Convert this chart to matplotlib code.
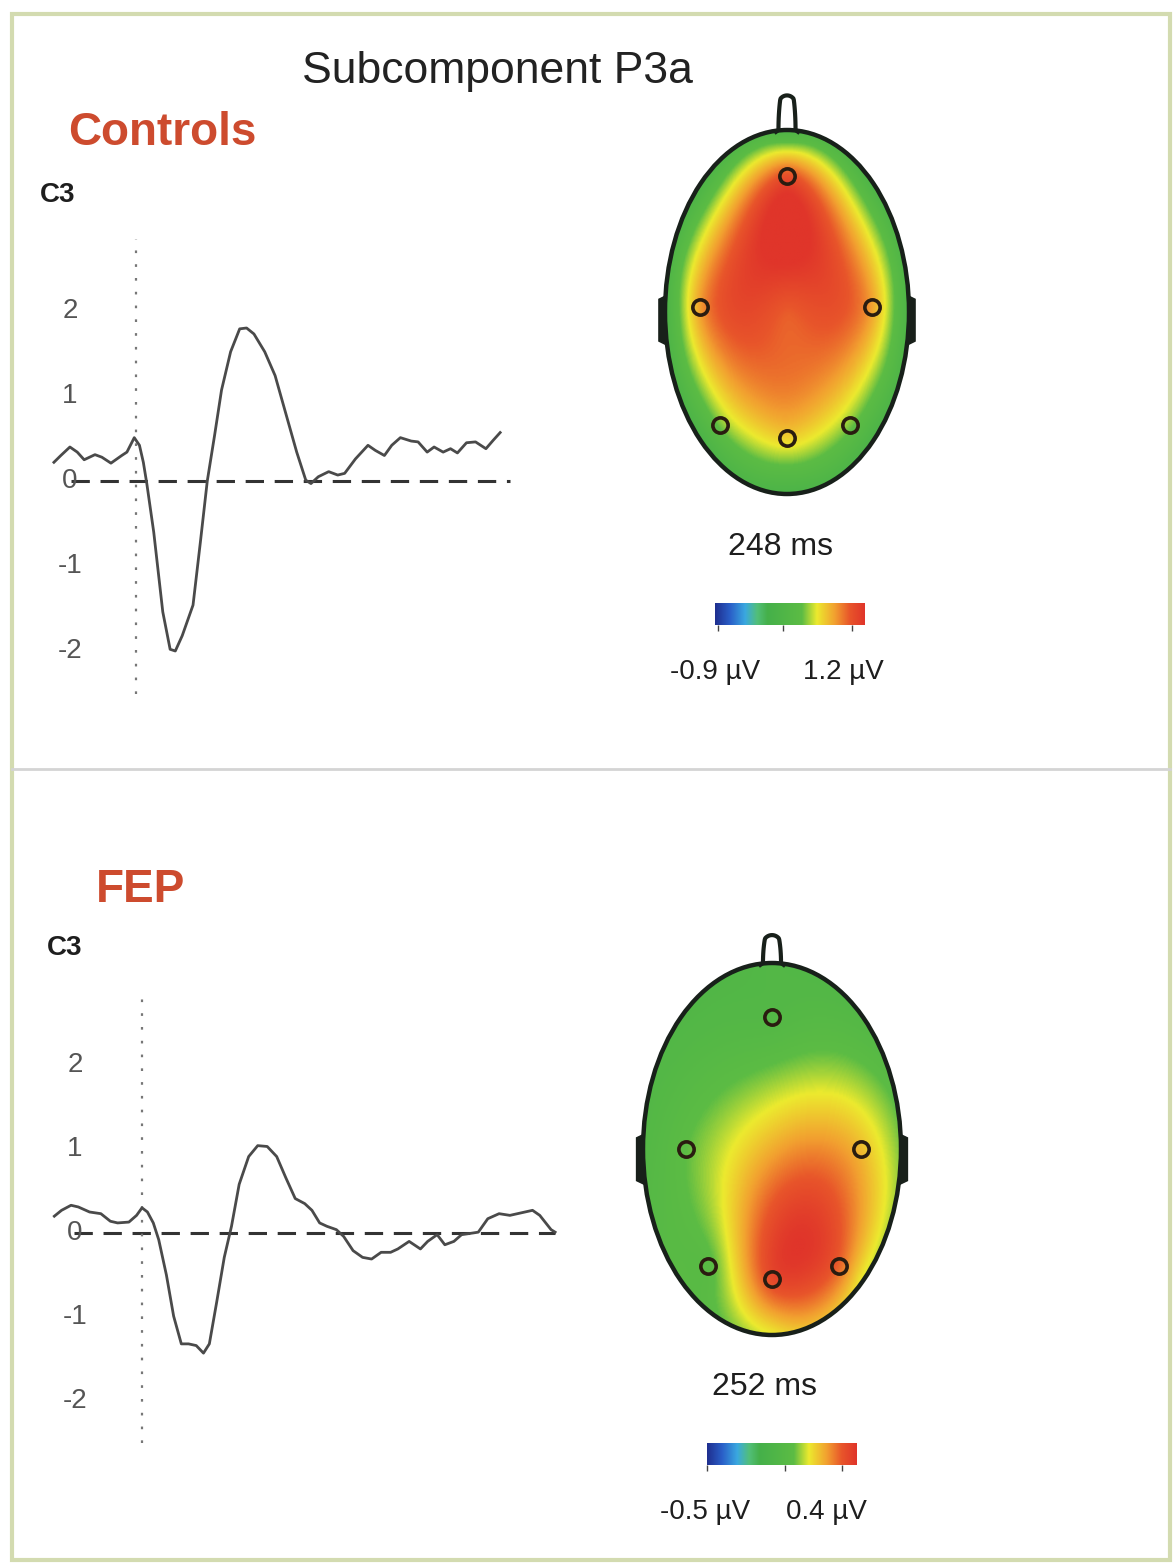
import numpy as np
import matplotlib
matplotlib.use("Agg")
import matplotlib.pyplot as plt
from matplotlib.colors import LinearSegmentedColormap
from matplotlib.patches import Ellipse, Rectangle, Polygon
from matplotlib.lines import Line2D

W, H = 1176, 1566
FONT = ["Liberation Sans", "DejaVu Sans"]
plt.rcParams["font.family"] = FONT

# ---- waveform data (ms, uV) at C3 ----
ctrl_t = [-190, -174, -153, -136, -120, -95, -79, -58, -33, -21, -4, 8, 17, 25, 41,
          62, 79, 91, 107, 132, 149, 165, 182, 198, 219, 240, 256, 273, 298, 322,
          347, 372, 393, 405, 422, 446, 467, 483, 508, 537, 554, 575, 592, 612, 637,
          653, 674, 690, 711, 728, 744, 765, 786, 810, 827, 843]
ctrl_uv = [0.22, 0.30, 0.40, 0.34, 0.25, 0.31, 0.28, 0.21, 0.30, 0.34, 0.51, 0.42, 0.22, -0.03, -0.60,
           -1.54, -1.98, -2.00, -1.82, -1.46, -0.72, 0.0, 0.54, 1.07, 1.52, 1.79, 1.80, 1.73, 1.52, 1.24,
           0.79, 0.34, 0.01, -0.03, 0.05, 0.11, 0.07, 0.09, 0.26, 0.42, 0.36, 0.30, 0.42, 0.51, 0.47,
           0.46, 0.34, 0.40, 0.34, 0.38, 0.33, 0.45, 0.46, 0.38, 0.48, 0.57]

fep_t = [-194, -178, -157, -141, -116, -91, -70, -54, -29, -12, 0, 12, 25, 37, 54,
         70, 87, 103, 120, 136, 149, 165, 182, 198, 215, 236, 256, 277, 298, 318,
         339, 360, 376, 393, 409, 430, 446, 467, 488, 508, 529, 550, 566, 591, 616,
         632, 653, 670, 690, 707, 732, 744, 765, 790, 814, 839, 864, 880, 905, 914]
fep_uv = [0.20, 0.27, 0.33, 0.31, 0.25, 0.23, 0.14, 0.12, 0.13, 0.21, 0.30, 0.25, 0.12, -0.08, -0.50,
          -0.99, -1.32, -1.32, -1.34, -1.43, -1.32, -0.83, -0.29, 0.08, 0.58, 0.91, 1.04, 1.03, 0.91, 0.66,
          0.41, 0.35, 0.27, 0.12, 0.08, 0.04, -0.04, -0.21, -0.29, -0.31, -0.23, -0.23, -0.19, -0.10, -0.19,
          -0.10, -0.02, -0.14, -0.10, -0.02, 0.0, 0.01, 0.17, 0.23, 0.21, 0.24, 0.27, 0.21, 0.04, 0.01]

y_ticks = [2, 1, 0, -1, -2]

# ---- topography data ----
elec_names = ["Fz", "C3", "C4", "P3", "Pz", "P4"]
ctrl_elec_x = [0.0, -0.71, 0.70, -0.55, 0.0, 0.52]
ctrl_elec_y = [0.75, 0.03, 0.03, -0.62, -0.69, -0.62]
ctrl_elec_uv = [1.02, 0.80, 0.76, 0.36, 0.62, 0.36]
ctrl_center_uv = 0.97

fep_elec_x = [0.0, -0.67, 0.69, -0.50, 0.0, 0.52]
fep_elec_y = [0.71, 0.0, 0.0, -0.63, -0.70, -0.63]
fep_elec_uv = [-0.05, 0.02, 0.18, 0.0, 0.34, 0.29]
fep_center_uv = 0.20

rim_angle = [90, 45, 0, -45, -90, -135, 180, 135]
ctrl_rim_uv = [0.05, 0.02, 0.0, -0.02, -0.02, -0.02, 0.0, 0.02]
fep_rim_uv = [-0.06, -0.05, 0.04, 0.10, 0.11, 0.0, -0.05, -0.07]

ctrl_range = (-0.9, 1.2)
fep_range = (-0.5, 0.4)

cmap = LinearSegmentedColormap.from_list("topo", [
    (0.0, "#1f2f8f"), (0.1, "#2a5fc8"), (0.2, "#3aa8e0"), (0.28, "#52bf7a"),
    (0.35, "#45b04a"), (0.58, "#5cbc44"), (0.68, "#ecea2e"), (0.8, "#f2a030"),
    (0.9, "#e8552a"), (1.0, "#e0352a")])


def rect(x, y, w, h):
    return [x / W, 1 - (y + h) / H, w / W, h / H]


def ftext(x, y, s, **kw):
    fig.text(x / W, 1 - y / H, s, **kw)


def tps_field(xs, ys, vs, gx, gy):
    xs, ys, vs = map(np.asarray, (xs, ys, vs))
    n = len(xs)
    d = np.hypot(xs[:, None] - xs[None, :], ys[:, None] - ys[None, :])
    K = np.where(d > 0, d ** 2 * np.log(np.where(d > 0, d, 1)), 0)
    P = np.column_stack([np.ones(n), xs, ys])
    A = np.zeros((n + 3, n + 3))
    A[:n, :n] = K
    A[:n, n:] = P
    A[n:, :n] = P.T
    sol = np.linalg.solve(A, np.concatenate([vs, np.zeros(3)]))
    w, a = sol[:n], sol[n:]
    dg = np.hypot(gx.ravel()[:, None] - xs[None, :], gy.ravel()[:, None] - ys[None, :])
    Kg = np.where(dg > 0, dg ** 2 * np.log(np.where(dg > 0, dg, 1)), 0)
    out = Kg @ w + a[0] + a[1] * gx.ravel() + a[2] * gy.ravel()
    return out.reshape(gx.shape)


def draw_wave(box, t, uv, dash_end, vline, tick_t):
    ax = fig.add_axes(box)
    ax.set_xlim(-250, 1000)
    ax.set_ylim(-3, 3)
    ax.axis("off")
    ax.plot([-150, dash_end], [0, 0], color="#333333", lw=2.2, dashes=(6, 3.5))
    ax.plot([0, 0], vline, color="#777777", lw=1.6, dashes=(1.2, 5))
    ax.plot(t, uv, color="#4a4a4a", lw=2.0)
    for v in y_ticks:
        ax.text(tick_t, v, str(v), ha="center", va="center", fontsize=20, color="#555555")
    return ax


def draw_topo(cx, cy, rx, ry, ex, ey, ev, center_v, rim_v, vrange, ear_y, nose_h):
    ax = fig.add_axes(rect(cx - 1.25 * rx, cy - 1.3 * ry, 2.5 * rx, 2.6 * ry))
    ax.set_xlim(-1.25, 1.25)
    ax.set_ylim(-1.3, 1.3)
    ax.axis("off")
    ang = np.deg2rad(rim_angle)
    sx = list(ex) + [0.0] + list(np.cos(ang))
    sy = list(ey) + [0.0] + list(np.sin(ang))
    sv = list(ev) + [center_v] + list(rim_v)
    g = np.linspace(-1.02, 1.02, 260)
    gx, gy = np.meshgrid(g, g)
    z = tps_field(sx, sy, sv, gx, gy)
    im = ax.imshow(z, extent=[-1.02, 1.02, -1.02, 1.02], origin="lower", cmap=cmap,
                   vmin=vrange[0], vmax=vrange[1], interpolation="bilinear", aspect="auto")
    clip = Ellipse((0, 0), 2, 2, transform=ax.transData, facecolor="none", edgecolor="none")
    ax.add_patch(clip)
    im.set_clip_path(clip)
    ax.add_patch(Ellipse((0, 0), 2, 2, facecolor="none", edgecolor="#18201a", lw=3.2, zorder=3))
    # ears
    for s in (-1, 1):
        ax.add_patch(Polygon([(s * 0.99, ear_y[0]), (s * 1.05, ear_y[0] - 0.02),
                              (s * 1.05, ear_y[1] + 0.02), (s * 0.99, ear_y[1])],
                             closed=True, facecolor="#18201a", edgecolor="#18201a", lw=1, zorder=3))
    # nose
    th = np.linspace(0, np.pi, 40)
    nx = 0.07 * np.cos(th)
    ny = 1.0 + (nose_h - 0.05) * np.clip(np.sin(th) * 1.6, 0, 1) + 0.05 * np.sin(th)
    ax.plot(np.r_[0.09, nx, -0.09], np.r_[0.99, ny, 0.99], color="#18201a", lw=3, zorder=3)
    ax.plot(ex, ey, "o", ms=11, mfc="none", mec="#2a1c10", mew=2.6, zorder=4)
    return ax


def draw_cbar(x, y, w, h, ticks):
    ax = fig.add_axes(rect(x, y, w, h))
    ax.imshow(np.linspace(0, 1, 256)[None, :], cmap=cmap, aspect="auto", extent=[0, 1, 0, 1])
    ax.set_xlim(0, 1)
    ax.set_ylim(0, 1)
    ax.set_yticks([])
    ax.set_xticks(ticks)
    ax.set_xticklabels([])
    ax.tick_params(axis="x", length=4, width=1, color="#444444", direction="out")
    for sp in ax.spines.values():
        sp.set_visible(False)


fig = plt.figure(figsize=(W / 100, H / 100), dpi=100)
fig.patch.set_facecolor("white")

# frame and divider
fig.add_artist(Rectangle((12 / W, 1 - 1560 / H), 1158 / W, 1546 / H, transform=fig.transFigure,
                         facecolor="none", edgecolor="#d3dbb0", lw=3))
fig.add_artist(Line2D([12 / W, 1170 / W], [1 - 769 / H, 1 - 769 / H], transform=fig.transFigure,
                      color="#d4d4d4", lw=2))

ftext(497, 72, "Subcomponent P3a", ha="center", va="center", fontsize=32, color="#222222")

# controls panel
ftext(68, 133, "Controls", ha="left", va="center", fontsize=33, fontweight="bold", color="#cd4b2e")
ftext(40, 195, "C3", ha="left", va="center", fontsize=20, fontweight="bold", color="#1e1e1e")
draw_wave(rect(28, 226, 540, 510), ctrl_t, ctrl_uv, 866, [-2.5, 2.85], -153)
draw_topo(787, 312, 122, 182, ctrl_elec_x, ctrl_elec_y, ctrl_elec_uv, ctrl_center_uv,
          ctrl_rim_uv, ctrl_range, (0.09, -0.18), 0.19)
ftext(780, 547, "248 ms", ha="center", va="center", fontsize=23, color="#1e1e1e")
draw_cbar(715, 603, 150, 22, [0.02, 0.45, 0.91])
ftext(715, 672, "-0.9 \u00b5V", ha="center", va="center", fontsize=20, color="#1e1e1e")
ftext(843, 672, "1.2 \u00b5V", ha="center", va="center", fontsize=20, color="#1e1e1e")

# FEP panel
ftext(96, 890, "FEP", ha="left", va="center", fontsize=33, fontweight="bold", color="#cd4b2e")
ftext(47, 948, "C3", ha="left", va="center", fontsize=20, fontweight="bold", color="#1e1e1e")
draw_wave(rect(29, 981, 565, 504), fep_t, fep_uv, 914, [-2.5, 2.9], -148)
draw_topo(772, 1149, 129, 186, fep_elec_x, fep_elec_y, fep_elec_uv, fep_center_uv,
          fep_rim_uv, fep_range, (0.08, -0.19), 0.15)
ftext(765, 1387, "252 ms", ha="center", va="center", fontsize=23, color="#1e1e1e")
draw_cbar(707, 1443, 150, 22, [0.0, 0.52, 0.9])
ftext(705, 1512, "-0.5 \u00b5V", ha="center", va="center", fontsize=20, color="#1e1e1e")
ftext(826, 1512, "0.4 \u00b5V", ha="center", va="center", fontsize=20, color="#1e1e1e")

fig.savefig("out.png", dpi=100)
